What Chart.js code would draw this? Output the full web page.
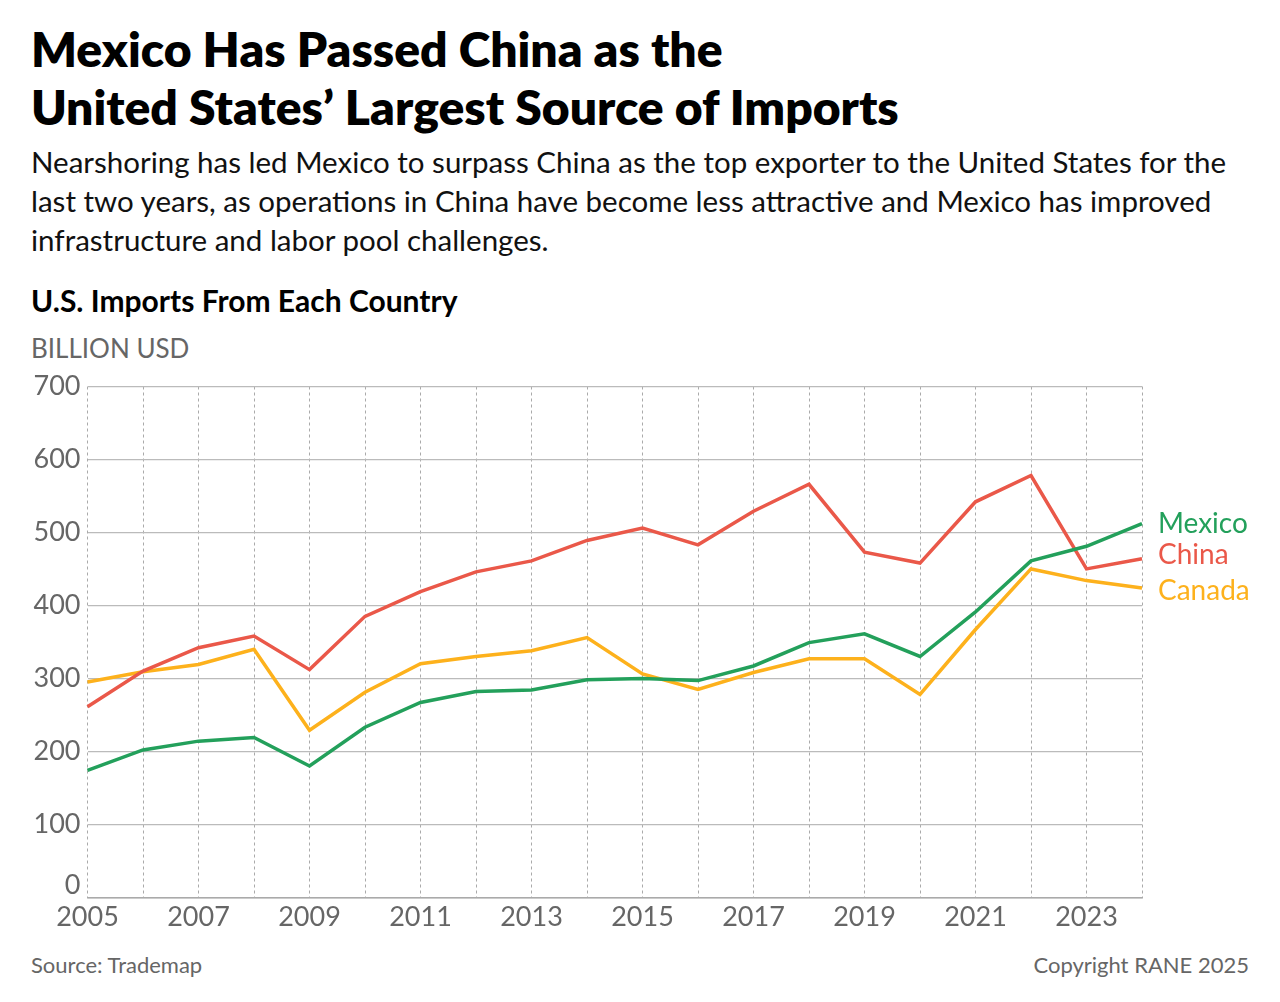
<!DOCTYPE html>
<html>
<head>
<meta charset="utf-8">
<script src="https://cdn.jsdelivr.net/npm/chart.js@4.4.1/dist/chart.umd.min.js"></script>
<style>
  html, body { margin: 0; padding: 0; background: #fff; }
  body { width: 1280px; height: 1002px; position: relative; overflow: hidden; font-family: Lato, "Open Sans", sans-serif; }
  .t { position: absolute; left: 31px; white-space: nowrap; }
  #title { top: 20px; font-size: 48px; line-height: 58px; font-weight: 800; color: #000; }
  #sub { top: 142px; font-size: 29.5px; line-height: 39px; color: #111; }
  #sec { top: 283px; font-size: 30px; line-height: 34px; font-weight: 700; color: #000; }
  #unit { top: 333px; font-size: 26px; line-height: 30px; color: #666; }
  #src { top: 953px; font-size: 22px; line-height: 24px; color: #666; }
  #copy { position: absolute; top: 953px; right: 31px; font-size: 22px; line-height: 24px; color: #666; }
  #wrap { position: absolute; left: 0; top: 360px; width: 1280px; height: 580px; }
</style>
</head>
<body>
<div class="t" id="title">Mexico Has Passed China as the<br>United States’ Largest Source of Imports</div>
<div class="t" id="sub">Nearshoring has led Mexico to surpass China as the top exporter to the United States for the<br>last two years, as operations in China have become less attractive and Mexico has improved<br>infrastructure and labor pool challenges.</div>
<div class="t" id="sec">U.S. Imports From Each Country</div>
<div class="t" id="unit">BILLION USD</div>
<div class="t" id="src">Source: Trademap</div>
<div id="copy">Copyright RANE 2025</div>
<div id="wrap"><canvas id="c"></canvas></div>
<script>
const years = ["2005","2006","2007","2008","2009","2010","2011","2012","2013","2014","2015","2016","2017","2018","2019","2020","2021","2022","2023","2024"];
const mexico = [174, 202, 214, 219, 180, 233, 267, 282, 284, 298, 300, 297, 317, 349, 361, 330, 391, 461, 481, 512];
const china  = [261, 310, 342, 358, 312, 385, 419, 446, 461, 489, 506, 483, 529, 566, 473, 458, 542, 578, 450, 464];
const canada = [295, 309, 319, 340, 229, 281, 320, 330, 338, 356, 306, 285, 308, 327, 327, 278, 367, 450, 434, 424];
const yTicks = [0, 100, 200, 300, 400, 500, 600, 700];
const seriesNames = ["Mexico", "China", "Canada"];
const seriesColors = ["#23a05b", "#ea5849", "#fdb11c"];

const endLabels = {
  id: 'endLabels',
  afterDatasetsDraw(chart) {
    const ctx = chart.ctx;
    const area = chart.chartArea;
    const ys = chart.scales.y;
    const offsets = [0, -4, 3];
    ctx.save();
    ctx.font = '28px Lato, sans-serif';
    ctx.textBaseline = 'middle';
    ctx.textAlign = 'left';
    chart.data.datasets.forEach((ds, i) => {
      const v = ds.data[ds.data.length - 1];
      ctx.fillStyle = ds.borderColor;
      ctx.fillText(ds.label, area.right + 16, ys.getPixelForValue(v) + offsets[i]);
    });
    ctx.font = '27px Lato, sans-serif';
    ctx.fillStyle = '#666';
    ctx.textAlign = 'right';
    ctx.fillText('0', area.left - 7, ys.getPixelForValue(0) - 12);
    ctx.restore();
  }
};

new Chart(document.getElementById('c'), {
  type: 'line',
  data: {
    labels: years,
    datasets: [mexico, china, canada].map((d, i) => ({
      label: seriesNames[i],
      data: d,
      borderColor: seriesColors[i],
      backgroundColor: seriesColors[i],
      borderWidth: 3.5,
      pointRadius: 0,
      tension: 0,
      fill: false
    }))
  },
  options: {
    responsive: true,
    maintainAspectRatio: false,
    animation: false,
    layout: { padding: { left: 0, right: 138, top: 26.5, bottom: 0 } },
    plugins: { legend: { display: false }, tooltip: { enabled: false } },
    scales: {
      x: {
        type: 'category',
        offset: false,
        afterFit(s) { s.height = 42.7; },
        grid: { color: '#aaa', lineWidth: 1, drawTicks: false },
        border: { display: true, color: '#aaa', width: 1.5, dash: [3, 3] },
        ticks: {
          autoSkip: false,
          maxRotation: 0,
          padding: 4,
          color: '#666',
          font: { family: 'Lato', size: 27 },
          callback(v, i) { return (i % 2 === 0) ? years[i] : ''; }
        }
      },
      y: {
        min: 0,
        max: 700,
        afterFit(s) { s.width = 87.5; },
        afterBuildTicks(s) { s.ticks = yTicks.map(v => ({ value: v })); },
        grid: { color: '#bbb', lineWidth: 1.3, drawTicks: false },
        border: { display: false },
        ticks: {
          padding: 7,
          color: '#666',
          font: { family: 'Lato', size: 27 },
          callback(v) { return v === 0 ? '' : String(v); }
        }
      }
    }
  },
  plugins: [endLabels]
});
</script>
</body>
</html>
